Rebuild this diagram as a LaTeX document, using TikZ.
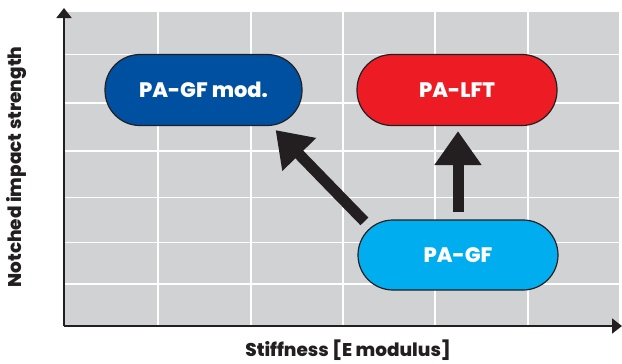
\documentclass[tikz,border=0pt]{standalone}
\usepackage{fontspec}
\setmainfont{Poppins}[BoldFont={* ExtraBold}]
\usetikzlibrary{arrows.meta,calc}
\definecolor{bggray}{HTML}{D1D2D4}
\definecolor{inkdark}{HTML}{231F20}
\definecolor{pablue}{HTML}{0050A2}
\definecolor{pared}{HTML}{ED1C24}
\definecolor{pacyan}{HTML}{00AEEF}
\tikzset{
  pill/.style={draw=inkdark, line width=1.2bp, rounded corners=35bp,
    minimum width=198bp, minimum height=71bp, inner sep=0pt,
    text=white, font=\fontsize{21}{24}\selectfont\bfseries},
  axisline/.style={draw=inkdark, line width=1.8bp, -{Triangle[length=10bp,width=15bp]}},
  bigarrow/.style={draw=inkdark, line width=11bp, -{Triangle[length=34bp,width=45bp]}},
  gridline/.style={draw=white, line width=1.6bp},
  axislabel/.style={font=\fontsize{18.5}{21}\selectfont\bfseries, text=inkdark}
}
\begin{document}
\begin{tikzpicture}[x=1bp,y=-1bp]
\useasboundingbox (0,0) rectangle (622,363);
\fill[bggray] (64,12) rectangle (619,326);
\foreach \x in {158,251,343,435,528}
  \draw[gridline] (\x,12) -- (\x,326);
\foreach \y in {54.5,103,151,197.5,242.5,284}
  \draw[gridline] (64,\y) -- (619,\y);
\coordinate (origin) at (64,326);
\coordinate (ytop) at (64,8);
\coordinate (xend) at (622,326);
\draw[axisline] (origin) -- (ytop);
\draw[axisline] (origin) -- (xend);
\node[axislabel, rotate=90] (ylab) at (17,167) {Notched impact strength};
\node[axislabel] (xlab) at (348,350) {Stiffness [E modulus]};
\node[pill, fill=pablue, minimum width=197bp] (gfmod) at (203.5,90) {PA-GF mod.};
\node[pill, fill=pared, minimum width=200bp] (lft) at (457,90) {PA-LFT};
\node[pill, fill=pacyan, minimum width=200bp, minimum height=70bp] (gf) at (458,255) {PA-GF};
\draw[bigarrow, shorten <=7bp, shorten >=5bp] (gf.north) -- (gf.north |- lft.south);
\draw[bigarrow] ($(gf.north west)+(7,2)$) -- ($(gfmod.south east)+(-27,4)$);
\end{tikzpicture}
\end{document}
